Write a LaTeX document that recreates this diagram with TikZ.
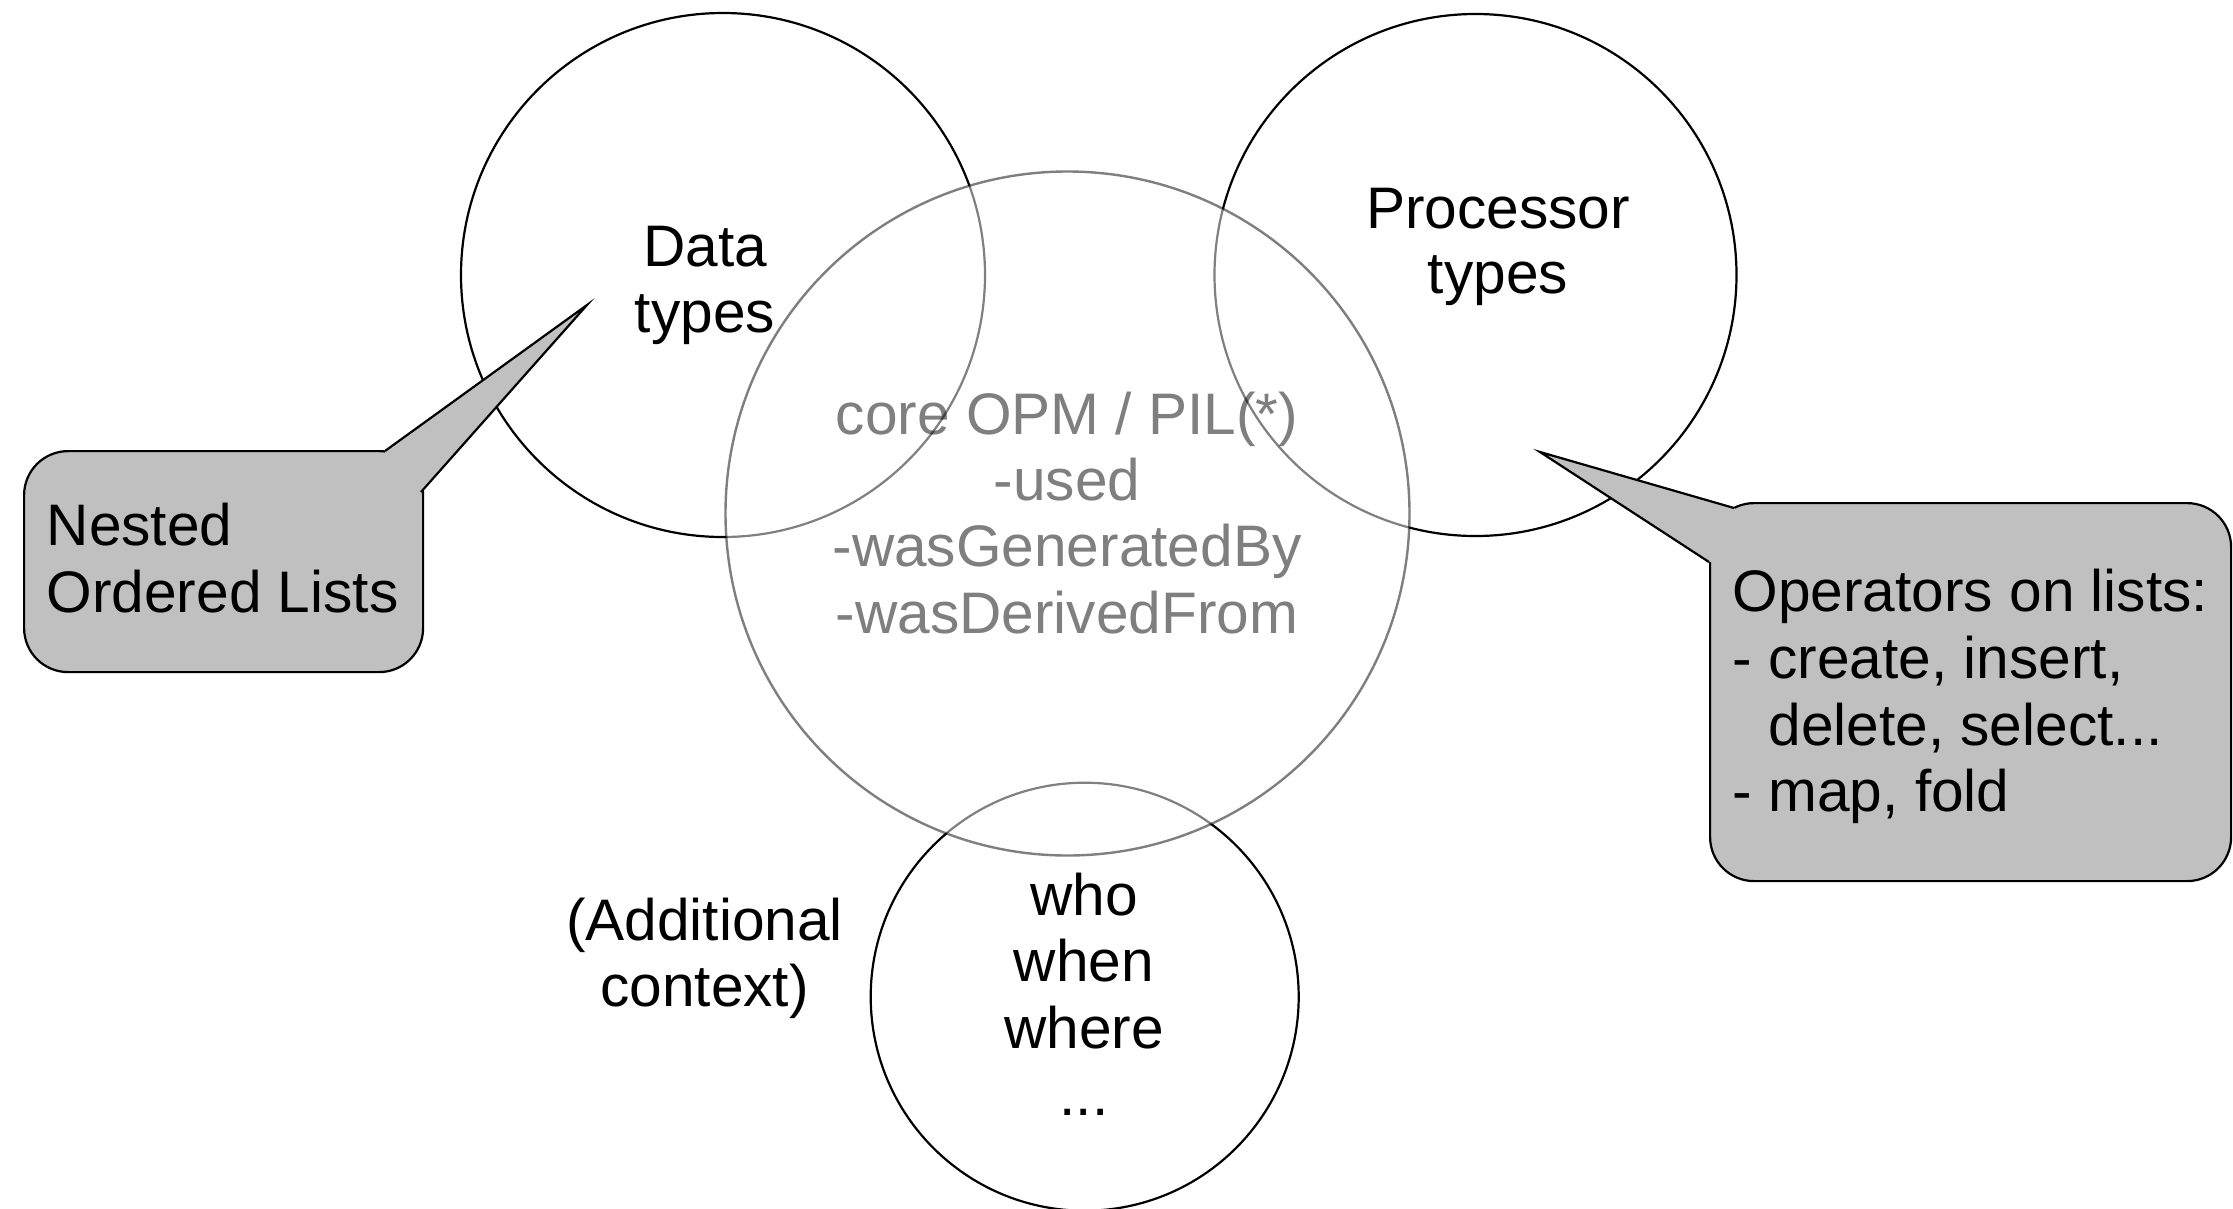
\documentclass[tikz,border=0pt]{standalone}
\usepackage{fontspec}
\setmainfont{Liberation Sans}
\definecolor{bubblegray}{HTML}{C0C0C0}
\begin{document}
\begin{tikzpicture}[x=1pt, y=-1pt,
  ringline/.style={circle, draw=black, line width=2.2pt, inner sep=0pt},
  corering/.style={circle, draw=black, draw opacity=0.5, fill=white, fill opacity=0.5,
                   line width=2.4pt, inner sep=0pt},
  txt/.style={font=\fontsize{58.6pt}{66pt}\selectfont, inner sep=0pt, anchor=base},
  txtleft/.style={txt, anchor=base west},
  coretxt/.style={txt, text=black, text opacity=0.5},
  bubblebox/.style={draw=black, fill=bubblegray, line width=2.2pt, rounded corners=44pt,
                    inner sep=0pt, anchor=north west},
  pointerline/.style={draw=black, line width=2.2pt, line join=miter}
]
\useasboundingbox (0,0) rectangle (2233,1208);

% outer circles
\node[ringline, minimum size=524pt] (data) at (723,275) {};
\node[ringline, minimum size=522pt] (proc) at (1475.5,275) {};
\node[ringline, minimum size=428pt] (ctx) at (1084.7,996.7) {};

% translucent core circle on top
\node[corering, minimum size=684pt] (core) at (1067.5,513.5) {};

% circle labels
\node[txt] (data1) at (705,266) {Data};
\node[txt] (data2) at (705,332) {types};
\node[txt] (proc1) at (1498,228) {Processor};
\node[txt] (proc2) at (1498,293.5) {types};

\node[coretxt] (core1) at (1067,434.7) {core OPM / PIL(*)};
\node[coretxt] (core2) at (1067,500.7) {-used};
\node[coretxt] (core3) at (1067,566.5) {-wasGeneratedBy};
\node[coretxt] (core4) at (1067,633) {-wasDerivedFrom};

\node[txt] (ctx1) at (1084,915) {who};
\node[txt] (ctx2) at (1084,981.7) {when};
\node[txt] (ctx3) at (1084,1048.3) {where};
\node[txt] (ctx4) at (1084,1115) {...};

\node[txt] (add1) at (704.5,940) {(Additional};
\node[txt] (add2) at (704.5,1006.7) {context)};

% left callout
\node[bubblebox, minimum width=399pt, minimum height=221pt] (lbox) at (23,450) {};
\coordinate (ltip) at (587,305);
\coordinate (lb1) at (385,451);
\coordinate (lb2) at (421,492);
\fill[bubblegray] (lb1) -- (ltip) -- (lb2) -- ([xshift=-4pt]lb2) -- ([yshift=-4pt]lb1) -- cycle;
\draw[pointerline] (lb1) -- (ltip) -- (lb2);
\node[txtleft] (lt1) at (46.5,545.7) {Nested};
\node[txtleft] (lt2) at (46.5,612.3) {Ordered Lists};

% right callout
\node[bubblebox, minimum width=521pt, minimum height=378pt] (rbox) at (1709,502) {};
\coordinate (rtip) at (1540,452);
\coordinate (rb1) at (1734,508);
\coordinate (rb2) at (1709,562);
\fill[bubblegray] (rb1) -- (rtip) -- (rb2) -- ([xshift=4pt]rb2) -- ([xshift=3pt,yshift=-3pt]rb1) -- cycle;
\draw[pointerline] (rb1) -- (rtip) -- (rb2);
\node[txtleft] (rt1) at (1732.5,611.7) {Operators on lists:};
\node[txtleft] (rt2) at (1732.5,678.3) {- create, insert,};
\node[txtleft] (rt3) at (1732.5,745) {\hphantom{-\ }delete, select...};
\node[txtleft] (rt4) at (1732.5,811.7) {- map, fold};
\end{tikzpicture}
\end{document}
